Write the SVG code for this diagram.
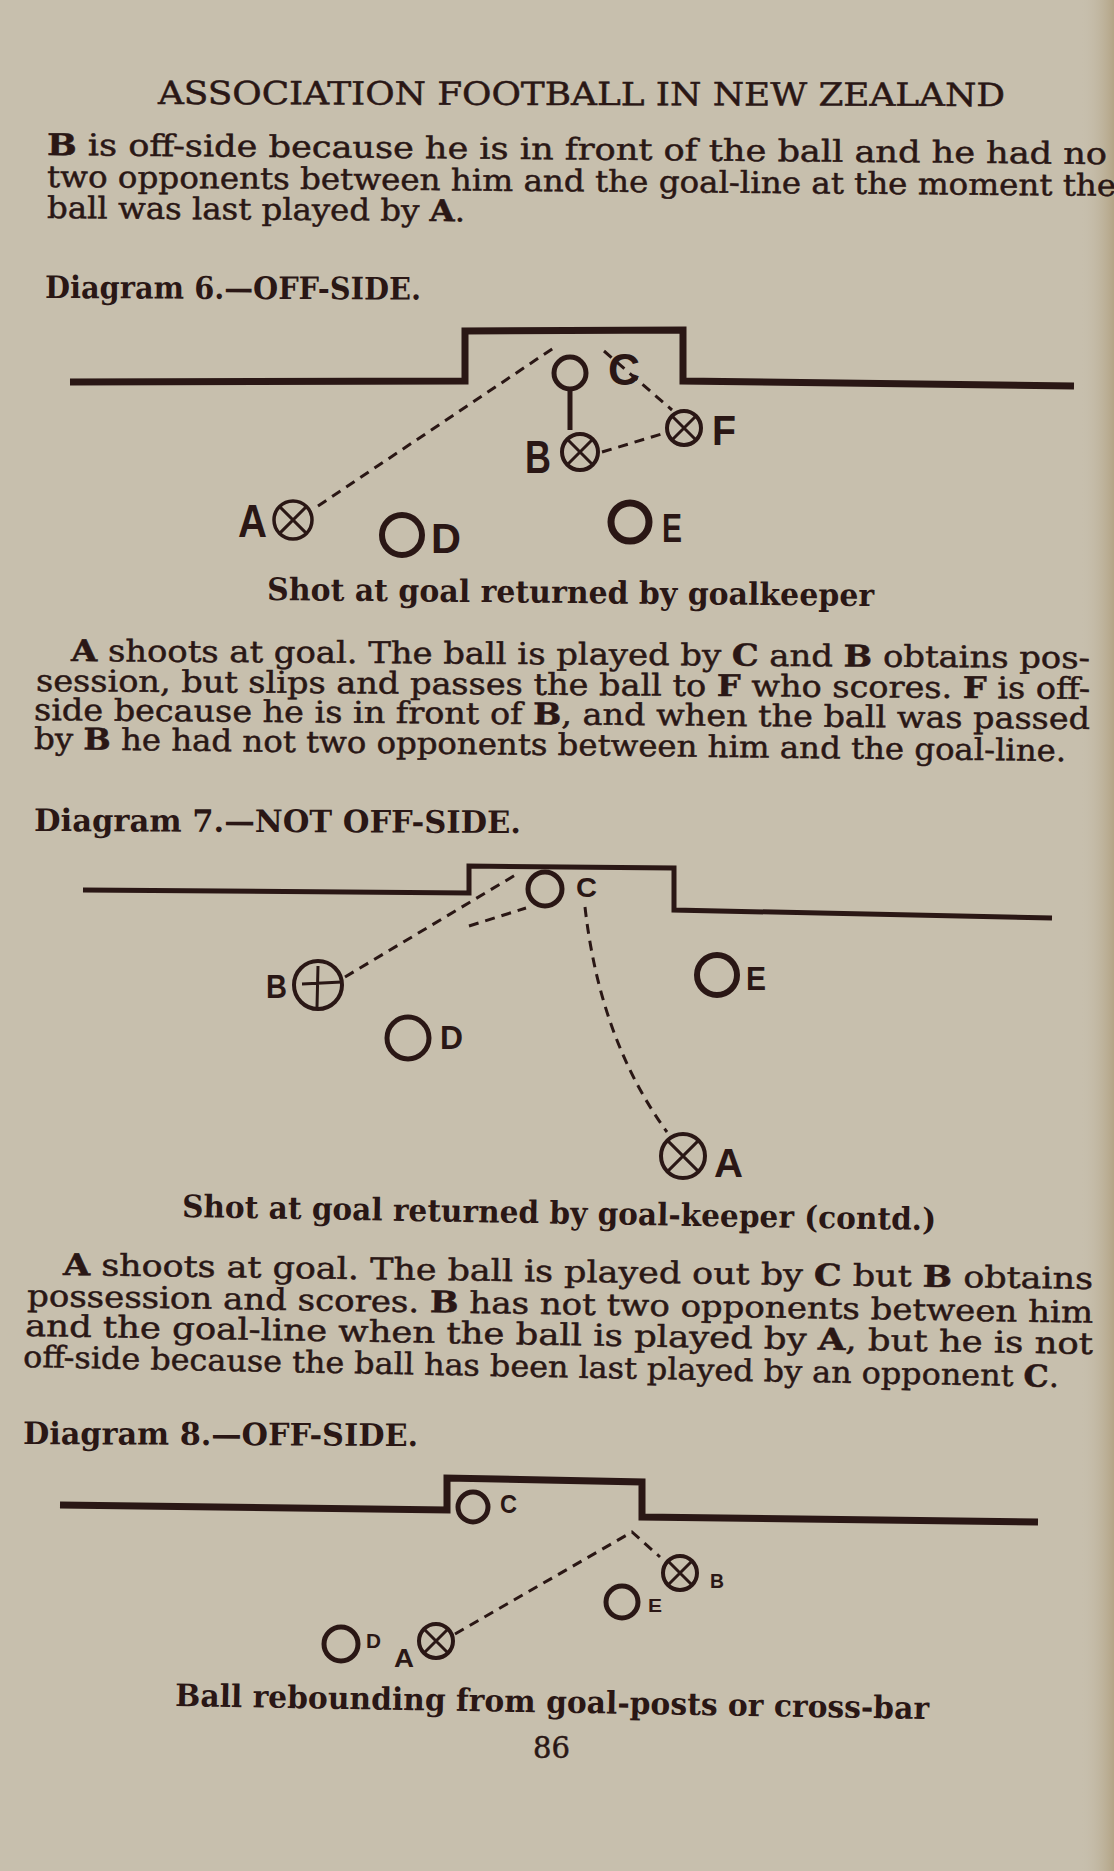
<svg xmlns="http://www.w3.org/2000/svg" width="1114" height="1871" viewBox="0 0 1114 1871">
<defs>
<linearGradient id="edge" x1="0" y1="0" x2="1" y2="0">
<stop offset="0" stop-color="#c7bfad" stop-opacity="0"/>
<stop offset="1" stop-color="#b3a486"/>
</linearGradient>
<style>
.body{font-family:"DejaVu Serif","Liberation Serif",serif;font-size:30px;fill:#2a1715;stroke:#2a1715;stroke-width:0.5}
.title{font-family:"DejaVu Serif","Liberation Serif",serif;font-size:32px;fill:#2a1715;stroke:#2a1715;stroke-width:0.5}
.cap{font-family:"DejaVu Serif","Liberation Serif",serif;font-size:31px;font-weight:bold;fill:#2a1715}
.b{font-weight:bold}
.lbl{font-family:"Liberation Sans","DejaVu Sans",sans-serif;font-weight:bold;fill:#2a1715}
.goal{fill:none;stroke:#2a1715;stroke-linejoin:miter;stroke-linecap:butt}
.ring{fill:none;stroke:#2a1715}
.dash{fill:none;stroke:#2a1715;stroke-width:3;stroke-dasharray:10 7}
</style>
</defs>
<rect width="1114" height="1871" fill="#c7bfad"/>
<rect x="1080" y="0" width="34" height="1871" fill="url(#edge)"/>

<g id="page-text">
<text class="title" x="158" y="104" textLength="847" lengthAdjust="spacingAndGlyphs" transform="rotate(0.14 158 104)">ASSOCIATION FOOTBALL IN NEW ZEALAND</text>
<text class="body" x="47" y="155" textLength="1060" lengthAdjust="spacingAndGlyphs" transform="rotate(0.49 47 155)"><tspan class="b">B</tspan> is off-side because he is in front of the ball and he had no</text>
<text class="body" x="47" y="187" textLength="1069" lengthAdjust="spacingAndGlyphs" transform="rotate(0.48 47 187)">two opponents between him and the goal-line at the moment the</text>
<text class="body" x="47" y="218" textLength="418" lengthAdjust="spacingAndGlyphs" transform="rotate(0.45 47 218)">ball was last played by <tspan class="b">A</tspan>.</text>
<text class="cap" x="45" y="298" textLength="376" lengthAdjust="spacingAndGlyphs" transform="rotate(0.25 45 298)">Diagram 6.—OFF-SIDE.</text>
<text class="cap" x="267" y="600" textLength="607" lengthAdjust="spacingAndGlyphs" transform="rotate(0.57 267 600)">Shot at goal returned by goalkeeper</text>
<text class="body" x="71" y="661" textLength="1019" lengthAdjust="spacingAndGlyphs" transform="rotate(0.4 71 661)"><tspan class="b">A</tspan> shoots at goal.  The ball is played by <tspan class="b">C</tspan> and <tspan class="b">B</tspan> obtains pos-</text>
<text class="body" x="36" y="691" textLength="1054" lengthAdjust="spacingAndGlyphs" transform="rotate(0.43 36 691)">session, but slips and passes the ball to <tspan class="b">F</tspan> who scores.  <tspan class="b">F</tspan> is off-</text>
<text class="body" x="34" y="720" textLength="1056" lengthAdjust="spacingAndGlyphs" transform="rotate(0.49 34 720)">side because he is in front of <tspan class="b">B</tspan>, and when the ball was passed</text>
<text class="body" x="34" y="749" textLength="1032" lengthAdjust="spacingAndGlyphs" transform="rotate(0.67 34 749)">by <tspan class="b">B</tspan> he had not two opponents between him and the goal-line.</text>
<text class="cap" x="34" y="831" textLength="487" lengthAdjust="spacingAndGlyphs" transform="rotate(0.24 34 831)">Diagram 7.—NOT OFF-SIDE.</text>
<text class="cap" x="182" y="1217" textLength="754" lengthAdjust="spacingAndGlyphs" transform="rotate(1.0 182 1217)">Shot at goal returned by goal-keeper (contd.)</text>
<text class="body" x="63" y="1275" textLength="1030" lengthAdjust="spacingAndGlyphs" transform="rotate(0.78 63 1275)"><tspan class="b">A</tspan> shoots at goal.  The ball is played out by <tspan class="b">C</tspan> but <tspan class="b">B</tspan> obtains</text>
<text class="body" x="27" y="1306" textLength="1066" lengthAdjust="spacingAndGlyphs" transform="rotate(0.9 27 1306)">possession and scores.  <tspan class="b">B</tspan> has not two opponents between him</text>
<text class="body" x="25" y="1336" textLength="1068" lengthAdjust="spacingAndGlyphs" transform="rotate(0.97 25 1336)">and the goal-line when the ball is played by <tspan class="b">A</tspan>, but he is not</text>
<text class="body" x="23" y="1367" textLength="1036" lengthAdjust="spacingAndGlyphs" transform="rotate(1.1 23 1367)">off-side because the ball has been last played by an opponent <tspan class="b">C</tspan>.</text>
<text class="cap" x="23" y="1444" textLength="395" lengthAdjust="spacingAndGlyphs" transform="rotate(0.3 23 1444)">Diagram 8.—OFF-SIDE.</text>
<text class="cap" x="175" y="1706" textLength="754" lengthAdjust="spacingAndGlyphs" transform="rotate(0.99 175 1706)">Ball rebounding from goal-posts or cross-bar</text>
<text class="body" x="533" y="1758" textLength="37" lengthAdjust="spacingAndGlyphs">86</text>
</g>

<!-- Diagram 6 -->
<g id="d6-goal"><path class="goal" stroke-width="7" d="M70,382 L465,381 L465,331 L683,330 L683,381 L1074,386"/></g>
<g id="d6-C">
<circle class="ring" cx="570" cy="373" r="16" stroke-width="5"/>
<line x1="570" y1="389" x2="570" y2="430" stroke="#2a1715" stroke-width="5"/>
<text class="lbl" x="608" y="385" font-size="44" textLength="32" lengthAdjust="spacingAndGlyphs">C</text>
</g>
<g id="d6-F">
<circle class="ring" cx="684" cy="428" r="17" stroke-width="4"/>
<path stroke="#2a1715" stroke-width="3" d="M672,416 L696,440 M696,416 L672,440"/>
<text class="lbl" x="712" y="445" font-size="42" textLength="24" lengthAdjust="spacingAndGlyphs">F</text>
</g>
<g id="d6-B">
<circle class="ring" cx="580" cy="452" r="18" stroke-width="4"/>
<path stroke="#2a1715" stroke-width="3" d="M567.3,439.3 L592.7,464.7 M592.7,439.3 L567.3,464.7"/>
<text class="lbl" x="525" y="473" font-size="46" textLength="26" lengthAdjust="spacingAndGlyphs">B</text>
</g>
<g id="d6-A">
<circle class="ring" cx="293" cy="520" r="19" stroke-width="3.5"/>
<path stroke="#2a1715" stroke-width="3" d="M279.6,506.6 L306.4,533.4 M306.4,506.6 L279.6,533.4"/>
<text class="lbl" x="238" y="537" font-size="46" font-weight="normal" textLength="29" lengthAdjust="spacingAndGlyphs">A</text>
</g>
<g id="d6-D">
<circle class="ring" cx="402" cy="535" r="20" stroke-width="6"/>
<text class="lbl" x="431" y="553" font-size="42" textLength="30" lengthAdjust="spacingAndGlyphs">D</text>
</g>
<g id="d6-E">
<circle class="ring" cx="630" cy="522" r="19" stroke-width="7"/>
<text class="lbl" x="662" y="542" font-size="41" textLength="20" lengthAdjust="spacingAndGlyphs">E</text>
</g>

<!-- Diagram 7 -->
<g id="d7-goal"><path class="goal" stroke-width="5" d="M83,890 L469,893 L469,866 L674,868 L674,910 L1052,918"/></g>
<g id="d7-C">
<circle class="ring" cx="545" cy="889" r="17" stroke-width="5"/>
<text class="lbl" x="576" y="897" font-size="28" textLength="21" lengthAdjust="spacingAndGlyphs">C</text>
</g>
<g id="d7-B">
<circle class="ring" cx="318" cy="985" r="24" stroke-width="4"/>
<path stroke="#2a1715" stroke-width="3" d="M302,984 L342,982 M318,966 L317,1007"/>
<text class="lbl" x="266" y="998" font-size="34" textLength="21" lengthAdjust="spacingAndGlyphs">B</text>
</g>
<g id="d7-E">
<circle class="ring" cx="717" cy="975" r="20" stroke-width="6"/>
<text class="lbl" x="746" y="990" font-size="34" textLength="20" lengthAdjust="spacingAndGlyphs">E</text>
</g>
<g id="d7-D">
<circle class="ring" cx="408" cy="1038" r="21" stroke-width="5"/>
<text class="lbl" x="440" y="1049" font-size="34" textLength="23" lengthAdjust="spacingAndGlyphs">D</text>
</g>
<g id="d7-A">
<circle class="ring" cx="683" cy="1156" r="22" stroke-width="4"/>
<path stroke="#2a1715" stroke-width="3" d="M667.4,1140.4 L698.6,1171.6 M698.6,1140.4 L667.4,1171.6"/>
<text class="lbl" x="714" y="1177" font-size="41" textLength="29" lengthAdjust="spacingAndGlyphs">A</text>
</g>

<!-- Diagram 8 -->
<g id="d8-goal"><path class="goal" stroke-width="7" d="M60,1505 L447,1510 L447,1478 L642,1482 L642,1517 L1038,1522"/></g>
<g id="d8-C">
<circle class="ring" cx="473" cy="1507" r="15" stroke-width="5"/>
<text class="lbl" x="500" y="1513" font-size="25" font-weight="normal" textLength="17" lengthAdjust="spacingAndGlyphs">C</text>
</g>
<g id="d8-B">
<circle class="ring" cx="680" cy="1573" r="17" stroke-width="4"/>
<path stroke="#2a1715" stroke-width="3" d="M668,1561 L692,1585 M692,1561 L668,1585"/>
<text class="lbl" x="710" y="1588" font-size="21" textLength="14" lengthAdjust="spacingAndGlyphs">B</text>
</g>
<g id="d8-E">
<circle class="ring" cx="622" cy="1602" r="16" stroke-width="5"/>
<text class="lbl" x="648" y="1612" font-size="19" font-weight="normal" textLength="14" lengthAdjust="spacingAndGlyphs">E</text>
</g>
<g id="d8-D">
<circle class="ring" cx="341" cy="1644" r="17" stroke-width="5"/>
<text class="lbl" x="366" y="1648" font-size="21" textLength="15" lengthAdjust="spacingAndGlyphs">D</text>
</g>
<g id="d8-A">
<circle class="ring" cx="436" cy="1641" r="17" stroke-width="4"/>
<path stroke="#2a1715" stroke-width="3" d="M424,1629 L448,1653 M448,1629 L424,1653"/>
<text class="lbl" x="394" y="1667" font-size="25" textLength="20" lengthAdjust="spacingAndGlyphs">A</text>
</g>

<g id="connectors">
<line class="dash" x1="318" y1="506" x2="558" y2="345"/>
<line class="dash" x1="604" y1="351" x2="672" y2="410"/>
<line class="dash" x1="602" y1="452" x2="665" y2="433" stroke-dasharray="6 5"/>
<line class="dash" x1="345" y1="977" x2="517" y2="874"/>
<line class="dash" x1="469" y1="926" x2="526" y2="908"/>
<path class="dash" d="M585,907 Q600,1040 667,1132" stroke-width="3.5" stroke-dasharray="17 8"/>
<path class="dash" d="M455,1634 L632,1532 L660,1557"/>
</g>
</svg>
